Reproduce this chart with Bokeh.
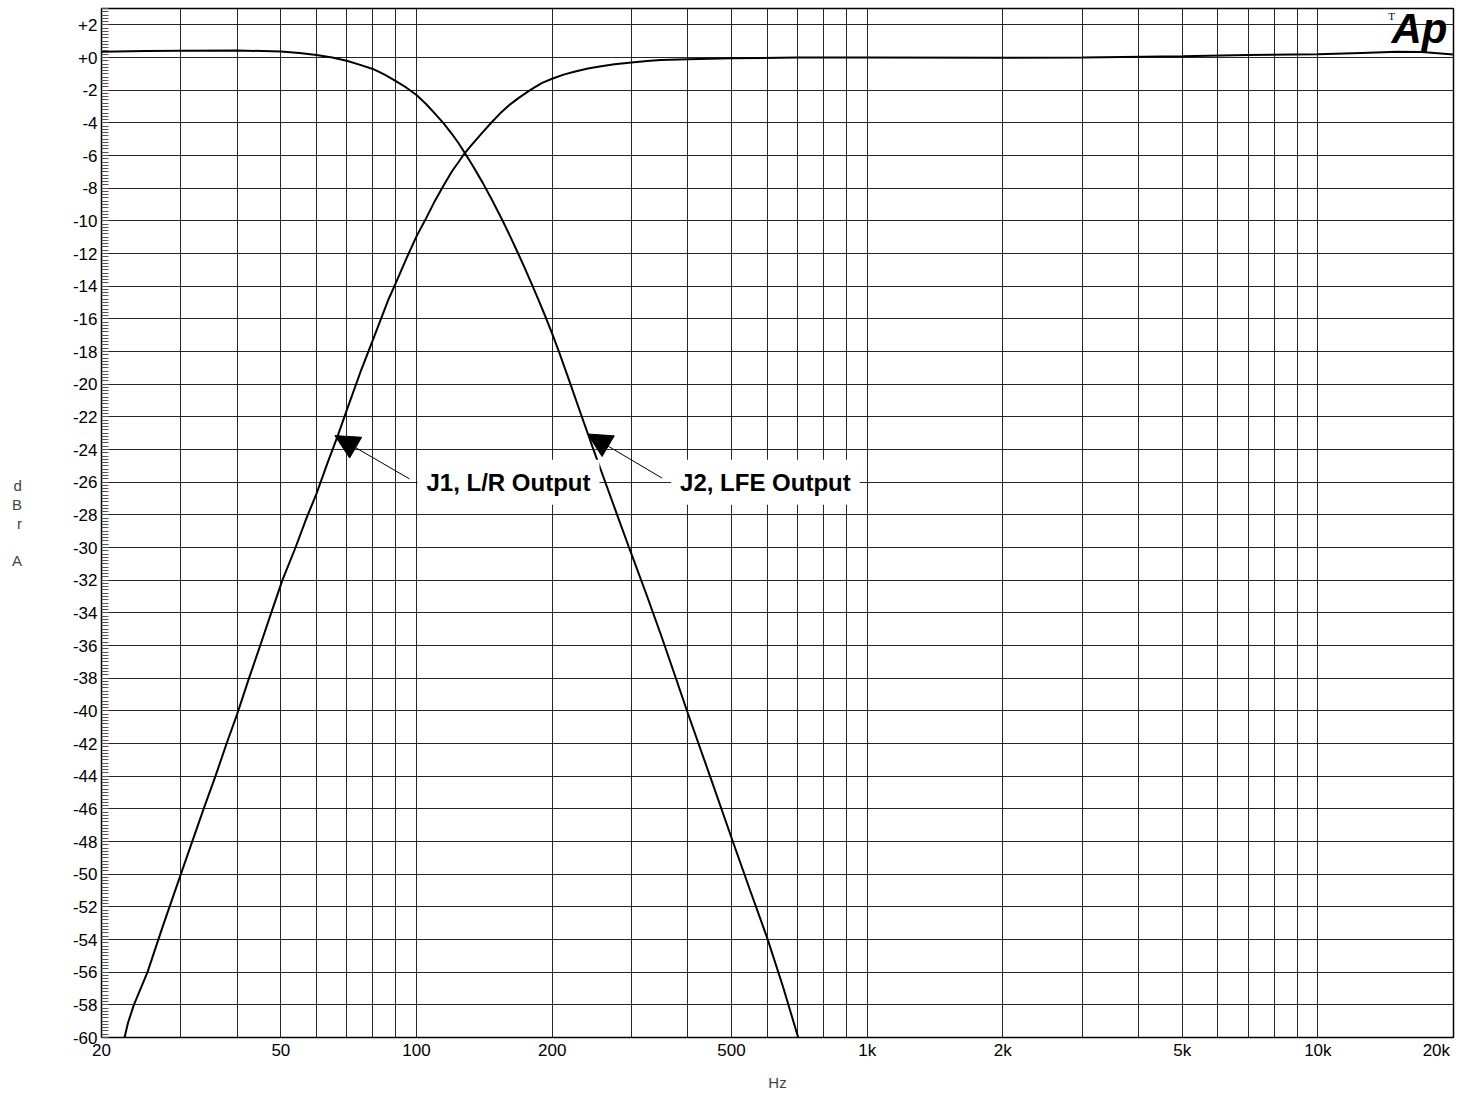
from bokeh.plotting import figure
from bokeh.models import Range1d, FixedTicker, Label, Arrow, NormalHead
from bokeh.embed import file_html
from bokeh.resources import INLINE

# ---------------- data ----------------
# J1, L/R Output (high-pass)
LR_FREQ = [22.5, 22.9, 23.6, 25.3, 27.35, 30, 33.7, 35.8, 37.9, 40,
           42.5, 45, 47.6, 50.4, 53.9, 57, 60, 63.5, 66.8, 70,
           75, 80, 86.7, 90, 95, 100, 105, 110, 115, 120,
           124, 128, 133, 140, 147, 153, 160, 168, 179, 190,
           200, 212, 225, 240, 255, 275, 300, 325, 348, 400,
           500, 700, 1000, 2000, 3000, 5000, 7000, 10000, 12500, 15000,
           17000, 20000]
LR_DB = [-60, -59.1, -58, -56, -53.2, -50, -46, -44, -42, -40.2,
         -38, -36, -34, -32, -30, -28.2, -26.7, -24.8, -23.2, -21.6,
         -19.3, -17.3, -14.8, -13.8, -12.3, -10.95, -9.85, -8.75, -7.8, -6.95,
         -6.4, -5.85, -5.3, -4.6, -3.95, -3.45, -2.95, -2.5, -1.98, -1.55,
         -1.3, -1.05, -0.86, -0.67, -0.55, -0.42, -0.3, -0.22, -0.16, -0.1,
         -0.05, 0.0, 0.0, -0.02, 0.0, 0.08, 0.15, 0.2, 0.28, 0.35,
         0.33, 0.18]

# J2, LFE Output (low-pass)
LFE_FREQ = [20, 25, 30, 40, 50, 55, 60, 65, 70, 75,
            80, 85, 90, 95, 100, 105, 110, 115, 120, 124,
            128, 133, 140, 147, 155, 161, 167, 173, 180.5, 187,
            194, 200, 207, 219, 232, 247, 263, 279, 297, 325,
            350, 375, 400, 450, 500, 550, 600, 650, 703]
LFE_DB = [0.35, 0.4, 0.42, 0.43, 0.37, 0.28, 0.15, 0.0, -0.2, -0.45,
          -0.7, -1.05, -1.45, -1.85, -2.3, -2.85, -3.45, -4.05, -4.7, -5.25,
          -5.85, -6.58, -7.63, -8.71, -9.95, -10.89, -11.83, -12.76, -13.92, -14.92,
          -15.98, -16.9, -18.0, -19.91, -21.89, -24.01, -26.08, -28.03, -30.09, -33.0,
          -35.48, -37.88, -40.15, -44.15, -47.77, -51.0, -53.9, -56.86, -60]

# axis ticks / labels
X_LABEL_TICKS = [20, 50, 100, 200, 500, 1000, 2000, 5000, 10000, 20000]
NB = "\u00a0"
X_LABELS = ["20", "50", "100", "200", "500", "1k", "2k", "5k", "10k", "20k" + NB * 2]
X_GRID = [20, 30, 40, 50, 60, 70, 80, 90,
          100, 200, 300, 400, 500, 600, 700, 800, 900,
          1000, 2000, 3000, 4000, 5000, 6000, 7000, 8000, 9000,
          10000, 20000]
Y_TICKS = list(range(-60, 3, 2))
Y_LABELS = [("+" if v >= 0 else "") + str(v) for v in Y_TICKS]
Y_MINOR = [round(-60 + 0.2 * i, 1) for i in range(316)]

X_TITLE = "Hz"
Y_TITLE = "d\nB\nr\n\nA"

# annotations: (text, label position, arrow tail, arrow tip)
NOTES = [
    ("J1, L/R Output", (160.0, -26.0), (96.5, -25.8), (65.9, -23.15)),
    ("J2, LFE Output", (594.6, -26.0), (350.7, -25.75), (239.6, -23.05)),
]

FONT = "Liberation Sans"

p = figure(width=1459, height=1093, x_axis_type="log",
           x_range=Range1d(20, 20000), y_range=Range1d(-60, 3),
           output_backend="svg", toolbar_location=None,
           min_border_left=101, min_border_right=6, min_border_top=8,
           min_border_bottom=52)
p.background_fill_color = "white"
p.border_fill_color = "white"
p.outline_line_color = "black"
p.outline_line_width = 1.5

# x axis
xa = p.xaxis[0]
xa.ticker = FixedTicker(ticks=X_LABEL_TICKS, minor_ticks=[])
xa.major_label_overrides = {t: l for t, l in zip(X_LABEL_TICKS, X_LABELS)}
xa.major_tick_in = 0
xa.major_tick_out = 0
xa.minor_tick_in = 0
xa.minor_tick_out = 0
xa.axis_line_color = "black"
xa.major_label_text_font = FONT
xa.major_label_text_font_size = "17px"
xa.major_label_text_color = "black"
xa.major_label_standoff = 3
xa.axis_label = X_TITLE
xa.axis_label_text_font = FONT
xa.axis_label_text_font_style = "normal"
xa.axis_label_text_font_size = "15px"
xa.axis_label_standoff = 11

# y axis
ya = p.yaxis[0]
ya.ticker = FixedTicker(ticks=Y_TICKS, minor_ticks=Y_MINOR)
ya.major_label_overrides = {t: l for t, l in zip(Y_TICKS, Y_LABELS)}
ya.major_tick_in = 7
ya.major_tick_out = 0
ya.major_tick_line_color = "#444444"
ya.minor_tick_in = 7
ya.minor_tick_out = 0
ya.minor_tick_line_color = "#555555"
ya.axis_line_color = "black"
ya.major_label_text_font = FONT
ya.major_label_text_font_size = "17px"
ya.major_label_text_color = "black"
ya.major_label_standoff = 4
ya.axis_label = Y_TITLE
ya.axis_label_orientation = "horizontal"
ya.axis_label_text_font = FONT
ya.axis_label_text_font_style = "normal"
ya.axis_label_text_font_size = "15px"
ya.axis_label_text_line_height = 1.1
ya.axis_label_standoff = 48

# grids
p.xgrid.ticker = FixedTicker(ticks=X_GRID)
p.ygrid.ticker = FixedTicker(ticks=Y_TICKS)
for g in (p.xgrid[0], p.ygrid[0]):
    g.grid_line_color = "black"
    g.grid_line_width = 1
    g.grid_line_alpha = 0.85

# curves
p.line(LR_FREQ, LR_DB, line_color="black", line_width=2)
p.line(LFE_FREQ, LFE_DB, line_color="black", line_width=2)

# annotations
for text, (lx, ly), (tx, ty), (hx, hy) in NOTES:
    p.add_layout(Arrow(end=NormalHead(size=24, fill_color="black", line_color="black"),
                       x_start=tx, y_start=ty, x_end=hx, y_end=hy,
                       line_color="black", line_width=1))
    p.add_layout(Label(x=lx, y=ly, text=text, text_align="center",
                       text_baseline="middle", text_font=FONT,
                       text_font_size="24px", text_font_style="bold",
                       text_color="black", background_fill_color="white",
                       padding=9))

# Ap logo
p.add_layout(Label(x=20000, y=1.8, x_offset=-6, text="Ap", text_align="right",
                   text_baseline="alphabetic", text_font=FONT,
                   text_font_size="42px", text_font_style="bold italic",
                   text_color="black"))
p.add_layout(Label(x=20000, y=2.55, x_offset=-62, text="T", text_align="center",
                   text_baseline="middle", text_font="Liberation Serif",
                   text_font_size="11px", text_color="black"))

open("out.html", "w").write(file_html(p, INLINE))
